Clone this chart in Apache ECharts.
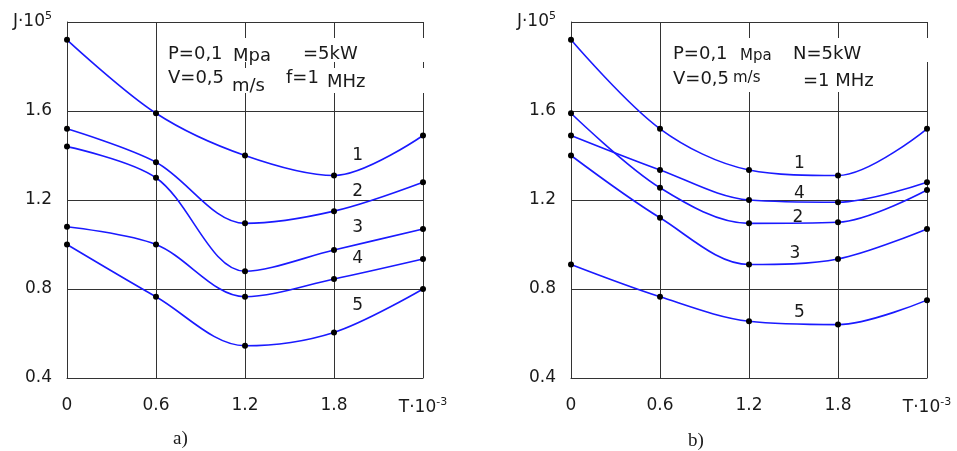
<!DOCTYPE html>
<html>
<head>
<meta charset="utf-8">
<script src="https://cdn.jsdelivr.net/npm/echarts@6/dist/echarts.min.js"></script>
<style>
  html, body { margin: 0; background: #fff; }
  #chart { width: 957px; height: 451px; }
</style>
</head>
<body>
<div id="chart"></div>
<script>
// T·10^-3 values (x axis)
const tValues = [0, 0.6, 1.2, 1.8, 2.4]
const curveNames = ['1', '2', '3', '4', '5']

// panel a)
const aCurve1 = [1.92, 1.59, 1.40, 1.31, 1.49]
const aCurve2 = [1.52, 1.37, 1.095, 1.15, 1.28]
const aCurve3 = [1.44, 1.30, 0.88, 0.975, 1.07]
const aCurve4 = [1.08, 1.00, 0.765, 0.845, 0.935]
const aCurve5 = [1.00, 0.765, 0.545, 0.605, 0.80]
// where the curve numbers sit (T, J)
const aLabelAt = [[1.96, 1.40], [1.96, 1.236], [1.96, 1.074], [1.96, 0.935], [1.96, 0.724]]

// panel b)
const bCurve1 = [1.92, 1.52, 1.335, 1.31, 1.52]
const bCurve2 = [1.59, 1.255, 1.095, 1.10, 1.245]
const bCurve3 = [1.40, 1.12, 0.91, 0.935, 1.07]
const bCurve4 = [1.49, 1.335, 1.20, 1.19, 1.28]
const bCurve5 = [0.91, 0.765, 0.655, 0.64, 0.75]
const bLabelAt = [[1.54, 1.362], [1.53, 1.12], [1.51, 0.957], [1.54, 1.227], [1.54, 0.692]]

const FONT = 'DejaVu Sans'
const INK = '#1a1a1a'
const GRIDCOL = '#333'

const chart = echarts.init(document.getElementById('chart'))

function pair(vals) {
  return tValues.map((t, i) => [t, vals[i]])
}

function curve(name, vals, idx, at) {
  return {
    name: name,
    type: 'line',
    xAxisIndex: idx,
    yAxisIndex: idx,
    data: pair(vals),
    smooth: 0.33,
    symbol: 'circle',
    symbolSize: 6,
    lineStyle: { color: '#1a1aff', width: 1.6 },
    itemStyle: { color: '#000' },
    z: 3,
    markPoint: {
      symbol: 'circle',
      symbolSize: 1,
      itemStyle: { color: 'rgba(0,0,0,0)' },
      label: {
        show: true,
        position: 'inside',
        formatter: name,
        color: INK,
        fontSize: 17,
        fontFamily: FONT
      },
      data: [{ coord: at }]
    }
  }
}

function xAxisFor(idx) {
  return {
    type: 'value',
    gridIndex: idx,
    min: 0,
    max: 2.4,
    interval: 0.6,
    axisLine: { lineStyle: { color: GRIDCOL, width: 1 } },
    axisTick: { show: false },
    splitLine: { show: true, lineStyle: { color: GRIDCOL, width: 1 } },
    axisLabel: {
      margin: 19,
      color: INK,
      fontSize: 17,
      fontFamily: FONT,
      formatter: function (v) {
        if (Math.abs(v - 2.4) < 1e-6) return '{b|T·10}{s|-3}'
        return v === 0 ? '0' : v.toFixed(1)
      },
      rich: {
        b: { fontSize: 17, fontFamily: FONT, color: INK, lineHeight: 22 },
        s: { fontSize: 11, fontFamily: FONT, color: INK, verticalAlign: 'top', lineHeight: 12 }
      }
    }
  }
}

function yAxisFor(idx) {
  return {
    type: 'value',
    gridIndex: idx,
    min: 0.4,
    max: 2.0,
    interval: 0.4,
    axisLine: { show: true, lineStyle: { color: GRIDCOL, width: 1 } },
    axisTick: { show: false },
    splitLine: { show: true, lineStyle: { color: GRIDCOL, width: 1 } },
    axisLabel: {
      margin: 15,
      color: INK,
      fontSize: 17,
      fontFamily: FONT,
      formatter: function (v) {
        if (v > 1.99) return '{b|J·10}{s|5}'
        return v.toFixed(1)
      },
      rich: {
        b: { fontSize: 17, fontFamily: FONT, color: INK, lineHeight: 22 },
        s: { fontSize: 11, fontFamily: FONT, color: INK, verticalAlign: 'top', lineHeight: 12 }
      }
    }
  }
}

function txt(x, y, s, size) {
  return {
    type: 'text', left: x, top: y, z: 10,
    style: { text: s, fill: INK, font: (size || 18) + 'px "' + FONT + '"' }
  }
}
function box(x, y, w, h) {
  return { type: 'rect', shape: { x: x, y: y, width: w, height: h }, style: { fill: '#fff' }, z: 1 }
}

const option = {
  animation: false,
  backgroundColor: '#fff',
  grid: [
    { left: 67, top: 22, width: 356, height: 356 },
    { left: 571, top: 22, width: 356, height: 356 }
  ],
  xAxis: [xAxisFor(0), xAxisFor(1)],
  yAxis: [yAxisFor(0), yAxisFor(1)],
  series: [
    curve('1', aCurve1, 0, aLabelAt[0]),
    curve('2', aCurve2, 0, aLabelAt[1]),
    curve('3', aCurve3, 0, aLabelAt[2]),
    curve('4', aCurve4, 0, aLabelAt[3]),
    curve('5', aCurve5, 0, aLabelAt[4]),
    curve('1', bCurve1, 1, bLabelAt[0]),
    curve('2', bCurve2, 1, bLabelAt[1]),
    curve('3', bCurve3, 1, bLabelAt[2]),
    curve('4', bCurve4, 1, bLabelAt[3]),
    curve('5', bCurve5, 1, bLabelAt[4])
  ],
  graphic: [
    // white patches behind the parameter text
    box(166, 38, 266, 24),
    box(166, 68, 266, 25),
    box(670, 38, 265, 24),
    box(670, 62, 210, 30),
    // panel a) parameters
    txt(168, 45, 'P=0,1'),
    txt(233, 47, 'Mpa'),
    txt(303, 45, '=5kW'),
    txt(168, 69, 'V=0,5'),
    txt(232, 77, 'm/s'),
    txt(286, 69, 'f=1'),
    txt(327, 73, 'MHz'),
    // panel b) parameters
    txt(673, 45, 'P=0,1'),
    txt(740, 49, 'Mpa', 15),
    txt(793, 45, 'N=5kW'),
    txt(673, 70, 'V=0,5'),
    txt(733, 71, 'm/s', 15),
    txt(803, 72, '=1 MHz'),
    // captions
    {
      type: 'text', left: 173, top: 430, z: 10,
      style: { text: 'a)', fill: INK, font: '19px "Liberation Serif"' }
    },
    {
      type: 'text', left: 688, top: 432, z: 10,
      style: { text: 'b)', fill: INK, font: '19px "Liberation Serif"' }
    }
  ]
}

chart.setOption(option)
</script>
</body>
</html>
